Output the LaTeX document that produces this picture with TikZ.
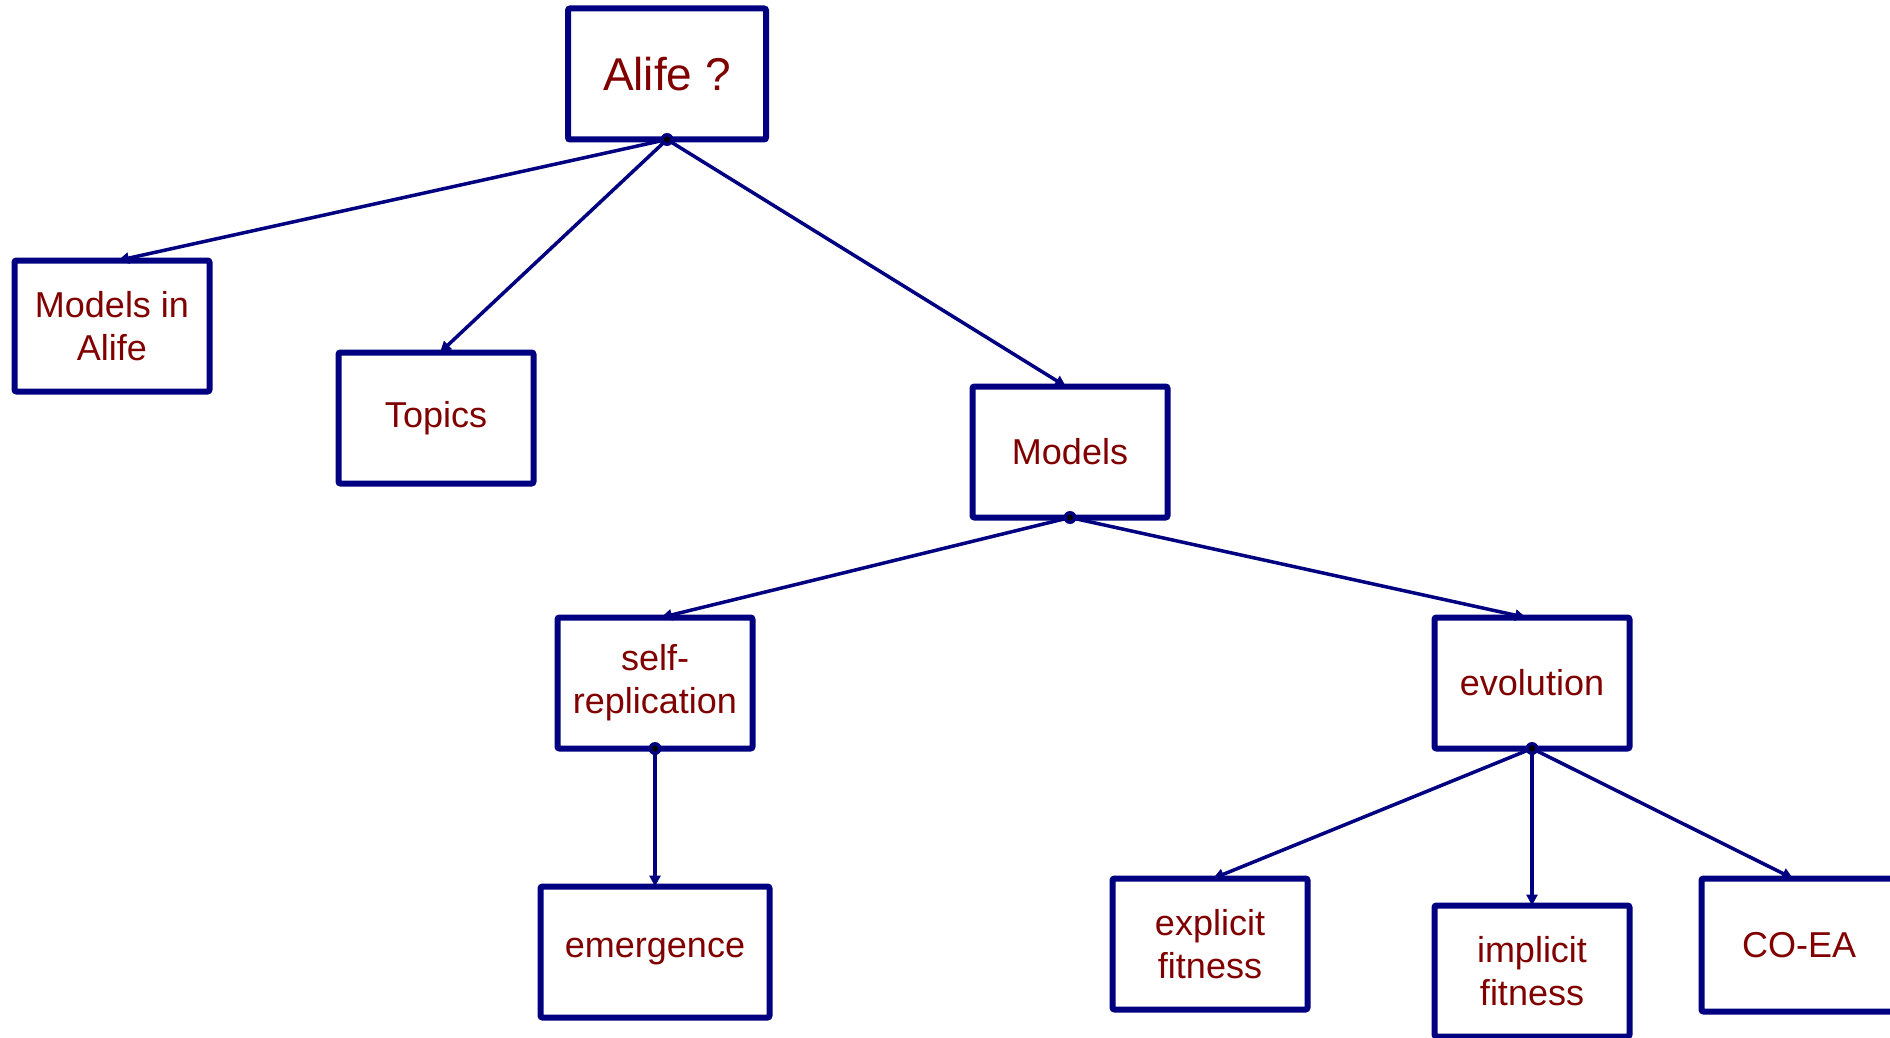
\documentclass[tikz,border=0pt]{standalone}
\usepackage{fontspec}
\setmainfont{Liberation Sans}
\usetikzlibrary{arrows.meta}
\definecolor{boxblue}{RGB}{0,0,128}
\definecolor{txtred}{RGB}{128,0,0}
\begin{document}
\begin{tikzpicture}[x=1pt,y=-1pt,
  box/.style={draw=boxblue, line width=6pt, rounded corners=2pt, fill=white,
    minimum width=195pt, minimum height=131pt, inner sep=0pt, outer sep=0pt,
    align=center, text=txtred, font=\fontsize{36}{43}\selectfont},
  conn/.style={draw=boxblue, line width=3.5pt, -{Triangle[length=11pt,width=11pt]}},
  dotmark/.style={circle, fill=boxblue, inner sep=0pt, minimum size=13pt}]
\useasboundingbox (0,0) rectangle (1890,1038);
\node[box, minimum width=198pt, font=\fontsize{46}{50}\selectfont] (alife) at (667,74) {Alife ?};
\node[box] (mia) at (112,326) {Models in\\Alife};
\node[box] (topics) at (436,418) {Topics};
\node[box] (models) at (1070,452) {Models};
\node[box] (selfrep) at (655,683) {self-\\replication};
\node[box, minimum width=229pt] (emerg) at (655,952) {emergence};
\node[box] (evol) at (1532,683) {evolution};
\node[box] (expl) at (1210,944) {explicit\\fitness};
\node[box] (impl) at (1532,971) {implicit\\fitness};
\node[box, minimum height=133pt] (coea) at (1799,945) {CO-EA};

\draw[conn] (alife.south) -- ([xshift=6pt]mia.north);
\draw[conn] (alife.south) -- ([xshift=4pt]topics.north);
\draw[conn] (alife.south) -- ([xshift=-4pt]models.north);
\draw[conn] (models.south) -- ([xshift=6pt]selfrep.north);
\draw[conn] (models.south) -- ([xshift=-6pt]evol.north);
\draw[conn] (selfrep.south) -- (emerg.north);
\draw[conn] (evol.south) -- ([xshift=3pt]expl.north);
\draw[conn] (evol.south) -- (impl.north);
\draw[conn] (evol.south) -- ([xshift=-6pt]coea.north);

\foreach \n in {alife,models,selfrep,evol}{
  \node[dotmark] at (\n.south) {};
  \fill[black] (\n.south) circle (3pt);
}
\end{tikzpicture}
\end{document}
